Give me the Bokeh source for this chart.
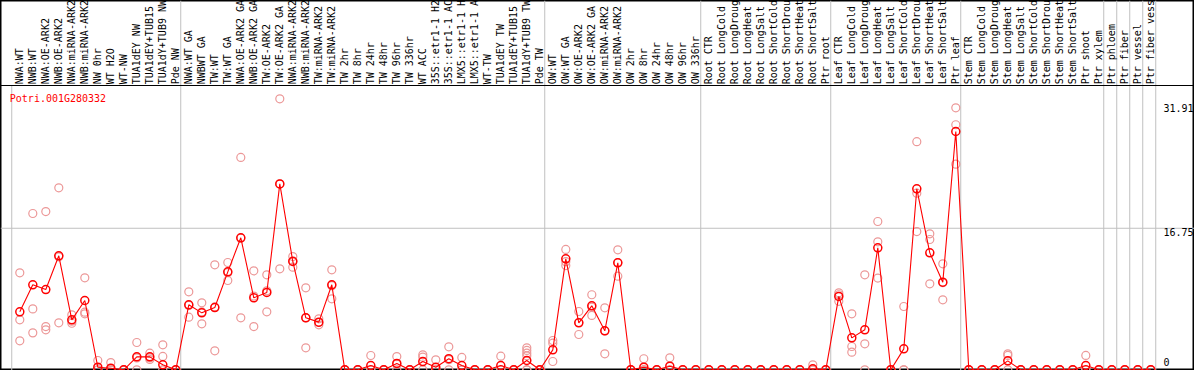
import numpy as np
from bokeh.plotting import figure
from bokeh.models import Span, Range1d, Label
from bokeh.core.properties import value
from bokeh.embed import file_html
from bokeh.resources import INLINE

# ---------------- data ----------------
gene = "Potri.001G280332"

categories = [
    "NWA:WT", "NWB:WT", "NWA:OE-ARK2", "NWB:OE-ARK2", "NWA:miRNA-ARK2", "NWB:miRNA-ARK2",
    "NW 0hr", "WT H2O", "WT-NW", "TUA1dEY NW", "TUA1dEY+TUB15", "TUA1dY+TUB9 NW", "Pde NW",
    "NWA:WT GA", "NWBWT GA", "TW:WT", "TW:WT GA", "NWA:OE-ARK2 GA", "NWB:OE-ARK2 GA",
    "TW:OE-ARK2", "TW:OE-ARK2 GA", "NWA:miRNA-ARK2", "NWB:miRNA-ARK2", "TW:miRNA-ARK2",
    "TW:miRNA-ARK2", "TW 2hr", "TW 8hr", "TW 24hr", "TW 48hr", "TW 96hr", "TW 336hr",
    "WT ACC", "35S::etr1-1 H2", "35S::etr1-1 AC", "LMX5::etr1-1 H", "LMX5::etr1-1 A",
    "WT-TW", "TUA1dEY TW", "TUA1dEY+TUB15", "TUA1dY+TUB9 TW", "Pde TW",
    "OW:WT", "OW:WT GA", "OW:OE-ARK2", "OW:OE-ARK2 GA", "OW:miRNA-ARK2", "OW:miRNA-ARK2",
    "OW 2hr", "OW 8hr", "OW 24hr", "OW 48hr", "OW 96hr", "OW 336hr",
    "Root CTR", "Root LongCold", "Root LongDroug", "Root LongHeat", "Root LongSalt",
    "Root ShortCold", "Root ShortDrou", "Root ShortHeat", "Root ShortSalt", "Ptr root",
    "Leaf CTR", "Leaf LongCold", "Leaf LongDroug", "Leaf LongHeat", "Leaf LongSalt",
    "Leaf ShortCold", "Leaf ShortDrou", "Leaf ShortHeat", "Leaf ShortSalt", "Ptr leaf",
    "Stem CTR", "Stem LongCold", "Stem LongDroug", "Stem LongHeat", "Stem LongSalt",
    "Stem ShortCold", "Stem ShortDrou", "Stem ShortHeat", "Stem ShortSalt", "Ptr shoot",
    "Ptr xylem", "Ptr phloem", "Ptr fiber", "Ptr vessel", "Ptr fiber vess",
]

mean_expr = [
    6.86, 10.06, 9.50, 13.49, 5.91, 8.20, 0.31, 0.19, 0.00, 1.53, 1.53, 0.59, 0.00,
    7.69, 6.74, 7.37, 11.59, 15.62, 8.52, 9.15, 22.00, 12.82, 6.15, 5.64, 10.06,
    0.00, 0.00, 0.51, 0.00, 0.75, 0.00, 0.98, 0.31, 1.31, 0.51, 0.00, 0.00, 0.51, 0.00, 1.10, 0.00,
    2.36, 13.13, 5.56, 7.57, 4.61, 12.66, 0.00, 0.31, 0.00, 0.43, 0.00, 0.00,
    0.00, 0.00, 0.00, 0.00, 0.00, 0.00, 0.00, 0.00, 0.12, 0.00,
    8.68, 3.78, 4.73, 14.43, 0.00, 2.48, 21.42, 13.84, 10.37, 28.20,
    0.00, 0.00, 0.00, 1.06, 0.00, 0.00, 0.00, 0.00, 0.00, 0.51,
    0.00, 0.00, 0.00, 0.00, 0.00,
]

rep_a = [
    11.48, 18.50, 18.73, 21.54, 6.50, 10.88, 1.10, 0.86, 0.00, 3.23, 1.97, 2.96, 0.00,
    9.23, 7.93, 12.42, 12.70, 25.13, 11.71, 11.24, 32.07, 13.40, 9.70, 6.03, 11.83,
    0.00, 0.00, 1.69, 0.00, 1.57, 0.00, 1.77, 1.18, 2.72, 1.46, 0.00, 0.00, 1.61, 0.00, 2.60, 0.00,
    3.47, 14.24, 6.90, 8.88, 7.33, 14.20, 0.00, 1.31, 0.00, 1.42, 0.00, 0.00,
    0.00, 0.00, 0.00, 0.00, 0.00, 0.00, 0.00, 0.00, 0.59, 0.00,
    9.11, 6.62, 11.24, 17.55, 0.00, 7.49, 27.00, 16.09, 12.54, 31.00,
    0.00, 0.00, 0.00, 1.89, 0.00, 0.00, 0.00, 0.00, 0.00, 1.70,
    0.00, 0.00, 0.00, 0.00, 0.00,
]

rep_b = [
    5.91, 7.21, 5.12, 13.37, 5.75, 6.82, 0.00, 0.00, 0.00, 1.40, 1.40, 1.58, 0.00,
    7.61, 6.85, 7.44, 11.50, 15.58, 8.73, 9.35, 22.00, 12.90, 6.15, 5.60, 9.95,
    0.00, 0.00, 0.00, 0.00, 0.68, 0.00, 1.50, 0.00, 1.20, 0.00, 0.00, 0.00, 0.00, 0.00, 2.29, 0.00,
    3.15, 12.80, 5.60, 7.40, 4.60, 12.70, 0.00, 0.00, 0.00, 0.00, 0.00, 0.00,
    0.00, 0.00, 0.00, 0.00, 0.00, 0.00, 0.00, 0.00, 0.00, 0.00,
    8.88, 2.76, 3.07, 15.15, 0.00, 0.00, 20.90, 15.42, 10.30, 29.00,
    0.00, 0.00, 0.00, 1.70, 0.00, 0.00, 0.00, 0.00, 0.00, 0.00,
    0.00, 0.00, 0.00, 0.00, 0.00,
]

rep_c = [
    3.43, 4.37, 4.73, 5.56, 5.51, 6.62, 0.00, 0.00, 0.00, 0.00, 1.22, 0.00, 0.00,
    6.23, 5.44, 2.25, 10.57, 6.15, 5.12, 6.86, 11.95, 12.15, 2.60, 5.32, 8.40,
    0.00, 0.00, 0.00, 0.00, 0.00, 0.00, 0.00, 0.00, 0.00, 0.00, 0.00, 0.00, 0.00, 0.00, 1.97, 0.00,
    0.98, 12.34, 4.18, 6.43, 1.89, 11.08, 0.00, 0.00, 0.00, 0.00, 0.00, 0.00,
    0.00, 0.00, 0.00, 0.00, 0.00, 0.00, 0.00, 0.00, 0.00, 0.00,
    8.10, 2.09, 0.00, 10.85, 0.00, 0.00, 16.36, 10.17, 8.28, 24.34,
    0.00, 0.00, 0.00, 0.00, 0.00, 0.00, 0.00, 0.00, 0.00, 0.00,
    0.00, 0.00, 0.00, 0.00, 0.00,
]

extra_rep_idx = [39, 39, 39]
extra_rep_val = [1.65, 0.00, 0.00]

group_sizes = [13, 28, 12, 10, 10, 11, 1, 1, 1, 1]

tick_values = [31.91, 16.75, 0.0]
tick_labels = ["31.91", "16.75", "0"]
grid_value = 16.75

# ---------------- layout / style ----------------
W, H = 1194, 370
PX_CAT = 13.0          # pixels per category
PX_UNIT = 8.45         # pixels per expression unit
FIRST_X_PX = 19.3      # first category centre from frame left
ZERO_PX = 0.7          # zero line above frame bottom
DIVIDER_PX = 284.3     # header divider above zero
LABEL_PX = 285.5       # category labels start above zero

x_start = -FIRST_X_PX / PX_CAT
x_end = x_start + W / PX_CAT
y_start = -ZERO_PX / PX_UNIT
y_end = y_start + H / PX_UNIT
y_div = DIVIDER_PX / PX_UNIT
y_lab = LABEL_PX / PX_UNIT

FONT = "DejaVu Sans Mono"
RED = "#ff0000"
PINK = "#ec9898"
GREY = "#c0c0c0"

p = figure(width=W, height=H, output_backend="svg", toolbar_location=None,
           x_axis_location=None, y_axis_location=None, title=None,
           x_range=Range1d(x_start, x_end), y_range=Range1d(y_start, y_end))
p.min_border = 0
p.min_border_left = p.min_border_right = p.min_border_top = p.min_border_bottom = 0
p.grid.visible = False
p.outline_line_color = "black"
p.outline_line_width = 2
p.background_fill_color = "white"
p.border_fill_color = "white"

n = len(categories)
xs = np.arange(n)

# group separators
bounds = np.concatenate([[0], np.cumsum(group_sizes)]) - 0.62
top = [y_div] + [y_end] * (len(bounds) - 1)
p.segment(x0=bounds, y0=[y_start] * len(bounds), x1=bounds, y1=top,
          line_color=GREY, line_width=1)

# horizontal grid line
p.add_layout(Span(location=grid_value, dimension="width", line_color=GREY,
                  line_width=1, level="underlay"))
# header divider
p.add_layout(Span(location=y_div, dimension="width", line_color="black", line_width=1))

# category labels (vertical)
p.text(x=xs, y=[y_lab] * n, text=categories, angle=np.pi / 2,
       text_font=value(FONT), text_font_size="10px", text_color="black",
       text_align="left", text_baseline="middle")

# replicates
rep_x = np.concatenate([xs, xs, xs, extra_rep_idx])
rep_y = np.concatenate([rep_a, rep_b, rep_c, extra_rep_val])
p.scatter(rep_x, rep_y, marker="circle", size=8, fill_color=None,
          line_color=PINK, line_width=1.2)

# mean line and markers
p.line(xs, mean_expr, line_color=RED, line_width=1.1)
p.scatter(xs, mean_expr, marker="circle", size=8, fill_color=None,
          line_color=RED, line_width=1.5)

# gene name
p.add_layout(Label(x=(9.3 - FIRST_X_PX) / PX_CAT, y=(369.3 - 97.5) / PX_UNIT, text=gene,
                   text_color=RED, text_font=FONT, text_font_size="10px",
                   text_baseline="middle", text_align="left"))

# value labels on the right
p.text(x=[(1163 - FIRST_X_PX) / PX_CAT] * 3, y=tick_values, text=tick_labels,
       y_offset=[7.6, 3.9, -7.6],
       text_font=value(FONT), text_font_size="10px", text_color="black",
       text_align="left", text_baseline="middle")

open("out.html", "w").write(file_html(p, INLINE))
